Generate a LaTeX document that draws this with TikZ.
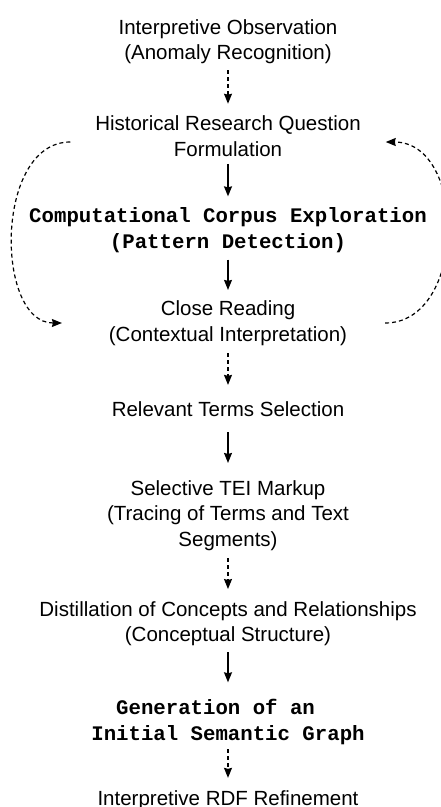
\documentclass[tikz,border=0pt]{standalone}
\usepackage{fontspec}
\setmainfont{Liberation Sans}
\setmonofont{Liberation Mono}
\usetikzlibrary{arrows.meta, positioning}

\begin{document}
\begin{tikzpicture}[x=1pt, y=1pt,
        stage/.style = {align=center, inner sep=3pt, outer sep=2pt, font=\fontsize{20.5}{25.5}\selectfont},
        code/.style  = {stage, font=\fontsize{20.7}{26}\selectfont\ttfamily\bfseries},
        flow/.style  = {->, line width=1.2pt},
        loose/.style = {flow, dash pattern=on 4pt off 3pt},
        >={Stealth[length=10pt, width=8pt, inset=1pt]}]

    \useasboundingbox (-228,0) rectangle (212,-807);

    % the stages, top to bottom
    \node[stage] (obs)    at (0,-41.5) {Interpretive Observation \\ (Anomaly Recognition)};
    \node[stage] (hist)   at (0,-136)  {Historical Research Question \\ Formulation};
    \node[code]  (corpus) at (0,-230)  {Computational Corpus Exploration \\ (Pattern Detection)};
    \node[stage] (close)  at (0,-323)  {Close Reading \\ (Contextual Interpretation)};
    \node[stage] (terms)  at (0,-409)  {Relevant Terms Selection};
    \node[stage] (tei)    at (0,-515.5) {Selective TEI Markup \\ (Tracing of Terms and Text \\ Segments)};
    \node[stage] (distil) at (0,-623.5) {Distillation of Concepts and Relationships \\ (Conceptual Structure)};
    \node[code]  (graph)  at (0,-721.5) {Generation of an\hphantom{xx} \\ Initial Semantic Graph};
    \node[stage] (rdf)    at (0,-800)  {Interpretive RDF Refinement};

    % straight links between the stages (gap at start / gap at end)
    \foreach \from/\to/\s/\e in {hist/corpus/2.5/6, corpus/close/2/5.8, terms/tei/10.6/12.5, distil/graph/1.2/11.4}
        \draw[flow, shorten <=\s pt, shorten >=\e pt] (\from) -- (\to);

    \foreach \from/\to/\s/\e in {obs/hist/1.3/7, close/terms/2.8/11.6, tei/distil/2.5/7.2, graph/rdf/0/7.6}
        \draw[loose, shorten <=\s pt, shorten >=\e pt] (\from) -- (\to);

    % the loop between question and close reading
    \draw[loose] ([xshift=-20pt, yshift=-6pt]hist.west)
        .. controls +(-76,0) and +(-67,0) .. ([xshift=-42pt]close.west);
    \draw[loose] ([xshift=33pt]close.east)
        .. controls +(82,0) and +(82,0) .. ([xshift=20pt, yshift=-6pt]hist.east);

\end{tikzpicture}
\end{document}
